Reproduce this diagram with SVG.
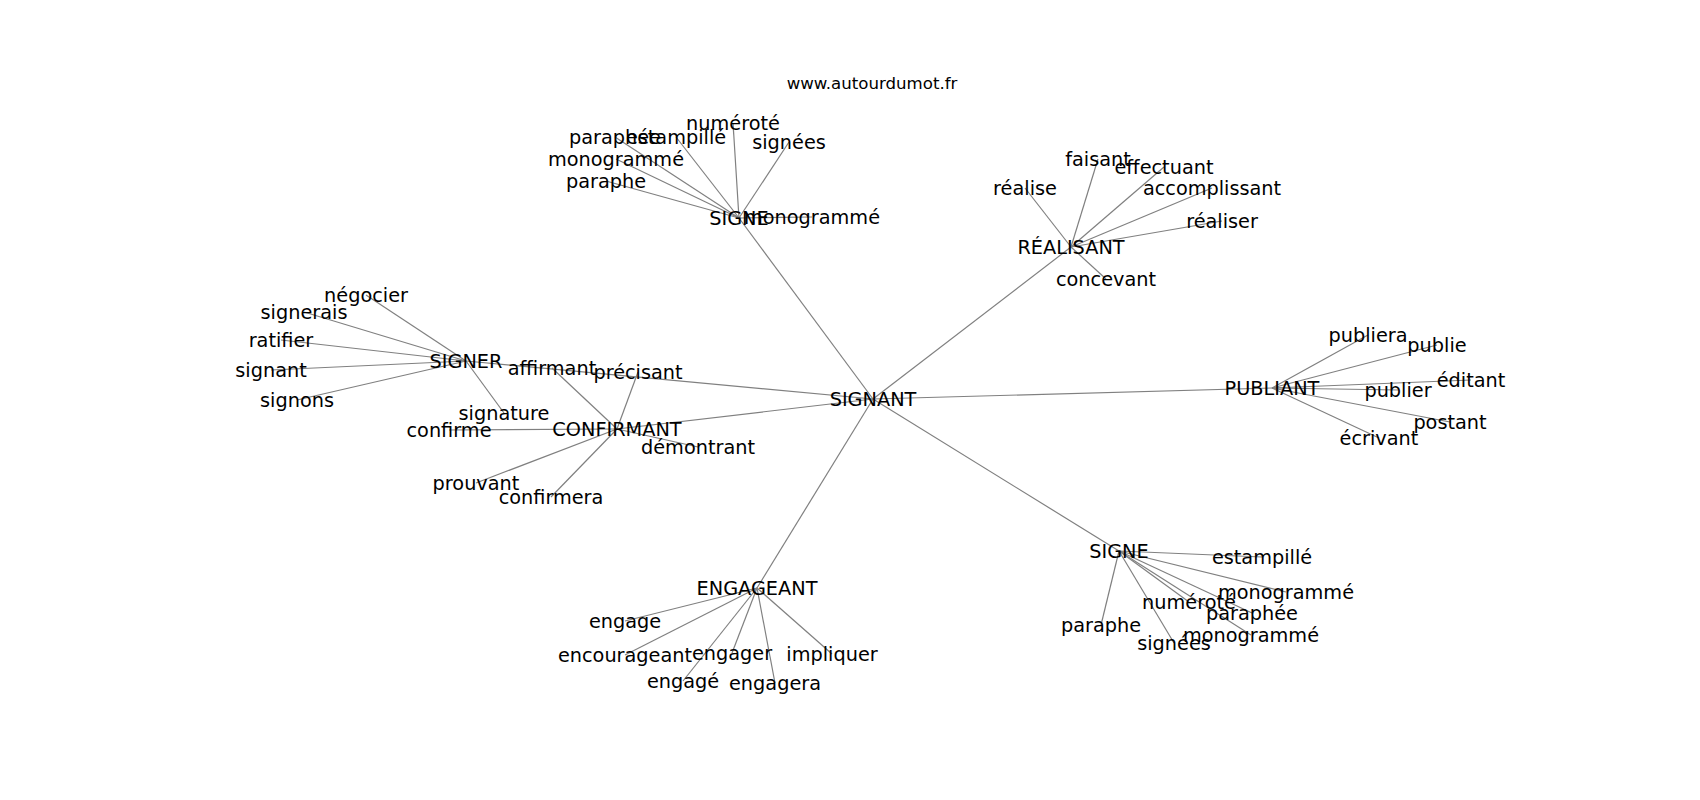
<svg xmlns="http://www.w3.org/2000/svg" width="1700" height="800" viewBox="0 0 1700 800">
<style>
.bg{fill:#ffffff}
.e{stroke:#808080;stroke-width:1.2;fill:none}
text{font-family:"DejaVu Sans","Liberation Sans",sans-serif;fill:#000000;text-anchor:middle;dominant-baseline:central}
.n{font-size:19.3px}
.t{font-size:16.6px}
</style>
<rect class="bg" x="0" y="0" width="1700" height="800"/>
<text class="t" x="872" y="83">www.autourdumot.fr</text>
<g id="edges">
<line class="e" x1="873" y1="399" x2="739" y2="218"/>
<line class="e" x1="873" y1="399" x2="1071" y2="247"/>
<line class="e" x1="873" y1="399" x2="1272" y2="388"/>
<line class="e" x1="873" y1="399" x2="1119" y2="551"/>
<line class="e" x1="873" y1="399" x2="757" y2="588"/>
<line class="e" x1="873" y1="399" x2="466" y2="361"/>
<line class="e" x1="873" y1="399" x2="617" y2="429"/>
<line class="e" x1="739" y1="218" x2="615" y2="137"/>
<line class="e" x1="739" y1="218" x2="676" y2="137"/>
<line class="e" x1="739" y1="218" x2="733" y2="123"/>
<line class="e" x1="739" y1="218" x2="789" y2="142"/>
<line class="e" x1="739" y1="218" x2="812" y2="217"/>
<line class="e" x1="739" y1="218" x2="616" y2="159"/>
<line class="e" x1="739" y1="218" x2="606" y2="181"/>
<line class="e" x1="1071" y1="247" x2="1025" y2="188"/>
<line class="e" x1="1071" y1="247" x2="1098" y2="159"/>
<line class="e" x1="1071" y1="247" x2="1164" y2="167"/>
<line class="e" x1="1071" y1="247" x2="1212" y2="188"/>
<line class="e" x1="1071" y1="247" x2="1222" y2="221"/>
<line class="e" x1="1071" y1="247" x2="1106" y2="279"/>
<line class="e" x1="1272" y1="388" x2="1368" y2="335"/>
<line class="e" x1="1272" y1="388" x2="1437" y2="345"/>
<line class="e" x1="1272" y1="388" x2="1471" y2="380"/>
<line class="e" x1="1272" y1="388" x2="1398" y2="390"/>
<line class="e" x1="1272" y1="388" x2="1450" y2="422"/>
<line class="e" x1="1272" y1="388" x2="1379" y2="438"/>
<line class="e" x1="1119" y1="551" x2="1262" y2="557"/>
<line class="e" x1="1119" y1="551" x2="1286" y2="592"/>
<line class="e" x1="1119" y1="551" x2="1189" y2="602"/>
<line class="e" x1="1119" y1="551" x2="1252" y2="613"/>
<line class="e" x1="1119" y1="551" x2="1251" y2="635"/>
<line class="e" x1="1119" y1="551" x2="1101" y2="625"/>
<line class="e" x1="1119" y1="551" x2="1174" y2="643"/>
<line class="e" x1="757" y1="588" x2="625" y2="621"/>
<line class="e" x1="757" y1="588" x2="625" y2="655"/>
<line class="e" x1="757" y1="588" x2="732" y2="653"/>
<line class="e" x1="757" y1="588" x2="832" y2="654"/>
<line class="e" x1="757" y1="588" x2="683" y2="681"/>
<line class="e" x1="757" y1="588" x2="775" y2="683"/>
<line class="e" x1="466" y1="361" x2="366" y2="295"/>
<line class="e" x1="466" y1="361" x2="304" y2="312"/>
<line class="e" x1="466" y1="361" x2="281" y2="340"/>
<line class="e" x1="466" y1="361" x2="271" y2="370"/>
<line class="e" x1="466" y1="361" x2="297" y2="400"/>
<line class="e" x1="466" y1="361" x2="504" y2="413"/>
<line class="e" x1="617" y1="429" x2="552" y2="368"/>
<line class="e" x1="617" y1="429" x2="638" y2="372"/>
<line class="e" x1="617" y1="429" x2="449" y2="430"/>
<line class="e" x1="617" y1="429" x2="698" y2="447"/>
<line class="e" x1="617" y1="429" x2="476" y2="483"/>
<line class="e" x1="617" y1="429" x2="551" y2="497"/>
</g>
<g id="n-signant"><text class="n" x="873" y="399">SIGNANT</text></g>
<g id="n-signe1"><text class="n" x="739" y="218">SIGNE</text></g>
<g id="n-signe1-paraphee"><text class="n" x="615" y="137">paraphée</text></g>
<g id="n-signe1-estampille"><text class="n" x="676" y="137">estampillé</text></g>
<g id="n-signe1-numerote"><text class="n" x="733" y="123">numéroté</text></g>
<g id="n-signe1-signees"><text class="n" x="789" y="142">signées</text></g>
<g id="n-signe1-monogramme1"><text class="n" x="812" y="217">monogrammé</text></g>
<g id="n-signe1-monogramme2"><text class="n" x="616" y="159">monogrammé</text></g>
<g id="n-signe1-paraphe"><text class="n" x="606" y="181">paraphe</text></g>
<g id="n-realisant"><text class="n" x="1071" y="247">RÉALISANT</text></g>
<g id="n-realise"><text class="n" x="1025" y="188">réalise</text></g>
<g id="n-faisant"><text class="n" x="1098" y="159">faisant</text></g>
<g id="n-effectuant"><text class="n" x="1164" y="167">effectuant</text></g>
<g id="n-accomplissant"><text class="n" x="1212" y="188">accomplissant</text></g>
<g id="n-realiser"><text class="n" x="1222" y="221">réaliser</text></g>
<g id="n-concevant"><text class="n" x="1106" y="279">concevant</text></g>
<g id="n-publiant"><text class="n" x="1272" y="388">PUBLIANT</text></g>
<g id="n-publiera"><text class="n" x="1368" y="335">publiera</text></g>
<g id="n-publie"><text class="n" x="1437" y="345">publie</text></g>
<g id="n-editant"><text class="n" x="1471" y="380">éditant</text></g>
<g id="n-publier"><text class="n" x="1398" y="390">publier</text></g>
<g id="n-postant"><text class="n" x="1450" y="422">postant</text></g>
<g id="n-ecrivant"><text class="n" x="1379" y="438">écrivant</text></g>
<g id="n-signe2"><text class="n" x="1119" y="551">SIGNE</text></g>
<g id="n-signe2-estampille"><text class="n" x="1262" y="557">estampillé</text></g>
<g id="n-signe2-monogramme1"><text class="n" x="1286" y="592">monogrammé</text></g>
<g id="n-signe2-numerote"><text class="n" x="1189" y="602">numéroté</text></g>
<g id="n-signe2-paraphee"><text class="n" x="1252" y="613">paraphée</text></g>
<g id="n-signe2-monogramme2"><text class="n" x="1251" y="635">monogrammé</text></g>
<g id="n-signe2-paraphe"><text class="n" x="1101" y="625">paraphe</text></g>
<g id="n-signe2-signees"><text class="n" x="1174" y="643">signées</text></g>
<g id="n-engageant"><text class="n" x="757" y="588">ENGAGEANT</text></g>
<g id="n-engage"><text class="n" x="625" y="621">engage</text></g>
<g id="n-encourageant"><text class="n" x="625" y="655">encourageant</text></g>
<g id="n-engager"><text class="n" x="732" y="653">engager</text></g>
<g id="n-impliquer"><text class="n" x="832" y="654">impliquer</text></g>
<g id="n-engage2"><text class="n" x="683" y="681">engagé</text></g>
<g id="n-engagera"><text class="n" x="775" y="683">engagera</text></g>
<g id="n-signer"><text class="n" x="466" y="361">SIGNER</text></g>
<g id="n-negocier"><text class="n" x="366" y="295">négocier</text></g>
<g id="n-signerais"><text class="n" x="304" y="312">signerais</text></g>
<g id="n-ratifier"><text class="n" x="281" y="340">ratifier</text></g>
<g id="n-signant"><text class="n" x="271" y="370">signant</text></g>
<g id="n-signons"><text class="n" x="297" y="400">signons</text></g>
<g id="n-signature"><text class="n" x="504" y="413">signature</text></g>
<g id="n-confirmant"><text class="n" x="617" y="429">CONFIRMANT</text></g>
<g id="n-affirmant"><text class="n" x="552" y="368">affirmant</text></g>
<g id="n-precisant"><text class="n" x="638" y="372">précisant</text></g>
<g id="n-confirme"><text class="n" x="449" y="430">confirme</text></g>
<g id="n-demontrant"><text class="n" x="698" y="447">démontrant</text></g>
<g id="n-prouvant"><text class="n" x="476" y="483">prouvant</text></g>
<g id="n-confirmera"><text class="n" x="551" y="497">confirmera</text></g>
</svg>
